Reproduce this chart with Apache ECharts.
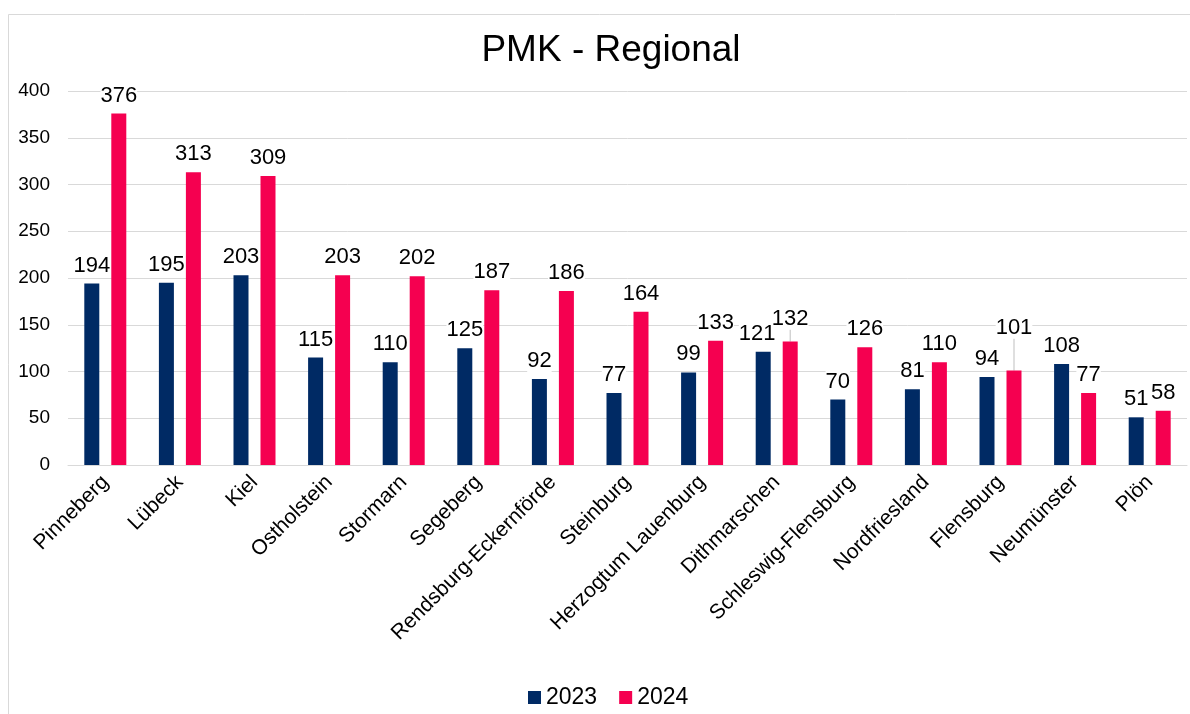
<!DOCTYPE html>
<html>
<head>
<meta charset="utf-8">
<title>PMK - Regional</title>
<script src="https://cdn.jsdelivr.net/npm/echarts@6/dist/echarts.min.js"></script>
<style>
  html, body { margin: 0; padding: 0; background: #fff; }
  #chart { width: 1190px; height: 714px; }
</style>
</head>
<body>
<div id="chart"></div>
<script>
// Kreise / kreisfreie Städte
const regions = [
  'Pinneberg', 'Lübeck', 'Kiel', 'Ostholstein', 'Stormarn', 'Segeberg',
  'Rendsburg-Eckernförde', 'Steinburg', 'Herzogtum Lauenburg', 'Dithmarschen',
  'Schleswig-Flensburg', 'Nordfriesland', 'Flensburg', 'Neumünster', 'Plön'
]
const values2023 = [194, 195, 203, 115, 110, 125, 92, 77, 99, 121, 70, 81, 94, 108, 51]
const values2024 = [376, 313, 309, 203, 202, 187, 186, 164, 133, 132, 126, 110, 101, 77, 58]
const yTicks = { min: 0, max: 400, interval: 50 }

const FONT = '"Liberation Sans", Arial, sans-serif'
const GRID_COLOR = '#d9d9d9'

// labels that were moved in the original (dx/dy), 2024 ones with a thin leader line
const shifted2023 = { 9: { dx: -6 } }
const shifted2024 = { 9: { dy: -5 }, 12: { dy: -25 } }

const barLabel = {
  show: true,
  position: 'top',
  distance: 7,
  color: '#000',
  fontFamily: FONT,
  fontSize: 22,
  backgroundColor: '#fff',
  padding: 0
}

const chart = echarts.init(document.getElementById('chart'), null, { renderer: 'canvas' })

chart.setOption({
  animation: false,
  backgroundColor: '#fff',
  graphic: [{
    type: 'rect',
    shape: { x: 8.5, y: 14.5, width: 1200, height: 720 },
    style: { fill: 'none', stroke: GRID_COLOR, lineWidth: 1 },
    silent: true
  }],
  title: {
    text: 'PMK - Regional',
    left: 606,
    top: 27,
    textAlign: 'center',
    textStyle: { fontFamily: FONT, fontSize: 37, fontWeight: 'normal', color: '#000' }
  },
  legend: {
    left: 523,
    top: 681,
    itemWidth: 13,
    itemHeight: 13,
    itemGap: 22,
    icon: 'rect',
    textStyle: { fontFamily: FONT, fontSize: 23, color: '#000' },
    data: ['2023', '2024']
  },
  grid: { left: 68, right: 3, top: 91, bottom: 249, containLabel: false },
  xAxis: {
    type: 'category',
    data: regions,
    axisLine: { lineStyle: { color: GRID_COLOR, width: 1 } },
    axisTick: { show: false },
    axisLabel: {
      rotate: 45,
      margin: 14,
      interval: 0,
      color: '#000',
      fontFamily: FONT,
      fontSize: 21
    }
  },
  yAxis: {
    type: 'value',
    min: yTicks.min,
    max: yTicks.max,
    interval: yTicks.interval,
    axisLine: { show: false },
    axisTick: { show: false },
    splitLine: { lineStyle: { color: GRID_COLOR, width: 1 } },
    axisLabel: { margin: 18, color: '#000', fontFamily: FONT, fontSize: 19 }
  },
  series: [
    {
      name: '2023',
      type: 'bar',
      data: values2023,
      barWidth: 15,
      barGap: '80%',
      itemStyle: { color: '#002A64' },
      label: barLabel,
      labelLayout: (params) => shifted2023[params.dataIndex] || {}
    },
    {
      name: '2024',
      type: 'bar',
      data: values2024.map((v, i) => shifted2024[i]
        ? { value: v, labelLine: { show: true, lineStyle: { color: '#bfbfbf', width: 1 } } }
        : v),
      barWidth: 15,
      itemStyle: { color: '#F50050' },
      label: barLabel,
      labelLayout: (params) => shifted2024[params.dataIndex] || {}
    }
  ]
})
</script>
</body>
</html>
